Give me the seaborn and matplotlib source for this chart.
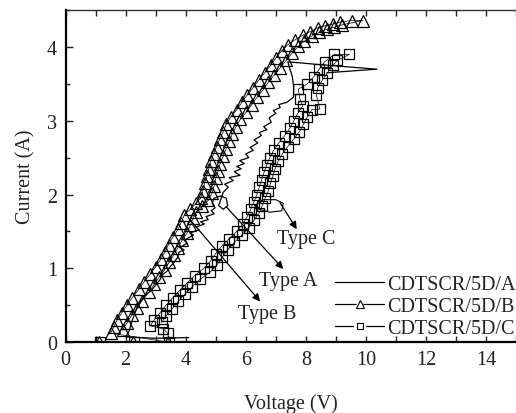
import matplotlib
matplotlib.use("Agg")
import matplotlib.pyplot as plt
from matplotlib.lines import Line2D
from matplotlib.legend_handler import HandlerTuple
from matplotlib.ticker import MultipleLocator
import seaborn as sns
import pandas as pd

# ---------------- data ----------------
A_v = [4.10, 3.00, 2.00, 2.12, 2.20, 2.30, 2.38, 2.50, 2.64, 2.80, 2.92, 3.05, 3.14, 3.22,
       3.38, 3.48, 3.62, 3.72, 3.78, 3.95, 3.80, 4.05, 3.95, 4.26, 4.15, 4.45, 4.35, 4.62,
       4.50, 4.75, 4.68, 4.95, 4.85, 4.98, 4.88, 4.95, 5.15, 5.35, 5.40, 5.25, 5.10, 5.25,
       5.42, 5.30, 5.59, 5.45, 5.81, 5.62, 5.85, 5.70, 5.95, 5.80, 6.10, 6.00, 6.25, 6.15,
       6.40, 6.28, 6.52, 6.45, 6.70, 6.60, 6.85, 6.78, 7.00, 6.92, 7.15, 7.10, 7.37, 7.59,
       7.60, 7.55, 7.40, 8.50, 10.37, 9.00, 8.70]
A_i = [0.06, 0.05, 0.07, 0.15, 0.27, 0.38, 0.46, 0.55, 0.63, 0.68, 0.73, 0.80, 0.84, 0.91,
       0.96, 1.02, 1.08, 1.14, 1.22, 1.25, 1.28, 1.34, 1.38, 1.45, 1.48, 1.52, 1.56, 1.60,
       1.63, 1.66, 1.70, 1.74, 1.78, 1.82, 1.88, 1.95, 1.98, 1.95, 1.85, 1.80, 1.85, 2.03,
       2.10, 2.14, 2.19, 2.23, 2.26, 2.31, 2.35, 2.38, 2.42, 2.46, 2.50, 2.55, 2.60, 2.64,
       2.70, 2.74, 2.80, 2.84, 2.88, 2.92, 2.98, 3.04, 3.10, 3.14, 3.18, 3.22, 3.25, 3.32,
       3.45, 3.60, 3.80, 3.76, 3.70, 3.66, 3.65]

B_v = [1.10, 2.25, 3.40,
       1.50, 1.60, 1.72, 1.88, 2.05, 2.22, 2.45, 2.62, 2.82, 3.00, 3.17, 3.30, 3.43, 3.57,
       3.75, 3.85, 3.95, 4.15, 4.35, 4.50, 4.57, 4.63, 4.70, 4.77, 4.83, 4.93, 5.03, 5.13,
       5.25, 5.35, 5.50, 5.70, 5.87, 6.05, 6.25, 6.43, 6.63, 6.83, 7.00, 7.20, 7.40, 7.65,
       7.90, 8.15, 8.40, 8.65, 8.90, 9.15, 9.55, 9.90,
       9.20, 8.95, 8.70, 8.45, 8.20, 7.95, 7.75, 7.55, 7.35, 7.15, 6.95, 6.75, 6.58, 6.38,
       6.20, 6.02, 5.82, 5.68, 5.55, 5.45, 5.35, 5.25, 5.15, 5.08, 5.00, 4.95, 4.88, 4.75,
       4.55, 4.35, 4.25, 4.15, 4.05, 3.88, 3.75, 3.60, 3.45, 3.30, 3.12, 2.95, 2.78, 2.55,
       2.38, 2.20, 2.05, 1.90]
B_i = [0.00, 0.00, 0.00,
       0.12, 0.20, 0.30, 0.40, 0.50, 0.60, 0.72, 0.82, 0.92, 1.02, 1.12, 1.22, 1.32, 1.42,
       1.53, 1.62, 1.72, 1.80, 1.88, 1.95, 2.05, 2.15, 2.25, 2.35, 2.45, 2.55, 2.65, 2.75,
       2.85, 2.95, 3.05, 3.15, 3.25, 3.35, 3.45, 3.55, 3.65, 3.75, 3.85, 3.95, 4.03, 4.10,
       4.16, 4.21, 4.26, 4.29, 4.31, 4.34, 4.36, 4.36,
       4.30, 4.27, 4.24, 4.20, 4.15, 4.08, 4.01, 3.92, 3.82, 3.72, 3.62, 3.52, 3.42, 3.32,
       3.22, 3.12, 3.02, 2.92, 2.82, 2.72, 2.62, 2.52, 2.42, 2.32, 2.22, 2.12, 2.02, 1.92,
       1.84, 1.76, 1.68, 1.58, 1.48, 1.38, 1.28, 1.18, 1.08, 0.98, 0.88, 0.78, 0.68, 0.56,
       0.46, 0.36, 0.26, 0.16]

C_v = [1.15, 2.28, 3.45, 3.40, 3.25,
       2.82, 2.95, 3.15, 3.35, 3.57, 3.80, 4.05, 4.30, 4.60, 4.83, 5.00, 5.20, 5.45, 5.70,
       5.90, 6.05, 6.17, 6.27, 6.37, 6.45, 6.53, 6.61, 6.70, 6.80, 6.93, 7.10, 7.30, 7.47,
       7.60, 7.73, 7.90, 7.80, 7.75, 8.05, 8.27, 8.45, 8.63, 8.95, 9.45,
       9.05, 8.90, 8.72, 8.55, 8.40, 8.35, 8.47, 8.20, 8.05, 7.92, 7.78, 7.60, 7.40, 7.22,
       7.08, 6.98, 6.90, 6.82, 6.75, 6.65, 6.55, 6.45, 6.28, 6.10, 5.87, 5.62, 5.40, 5.22,
       5.05, 4.82, 4.48, 4.22, 3.98, 3.75, 3.55, 3.35, 3.20]
C_i = [0.00, 0.00, 0.00, 0.12, 0.18,
       0.22, 0.30, 0.40, 0.50, 0.60, 0.70, 0.80, 0.90, 1.00, 1.10, 1.20, 1.30, 1.40, 1.50,
       1.60, 1.70, 1.80, 1.90, 2.00, 2.10, 2.20, 2.30, 2.40, 2.50, 2.60, 2.70, 2.80, 2.90,
       3.00, 3.10, 3.20, 3.30, 3.43, 3.50, 3.60, 3.70, 3.80, 3.90, 3.90,
       3.82, 3.75, 3.65, 3.55, 3.45, 3.35, 3.16, 3.15, 3.05, 2.95, 2.85, 2.75, 2.65, 2.55,
       2.45, 2.35, 2.25, 2.15, 2.05, 1.95, 1.85, 1.75, 1.65, 1.55, 1.45, 1.35, 1.25, 1.15,
       1.05, 0.95, 0.85, 0.75, 0.65, 0.55, 0.45, 0.35, 0.27]

C_loop_v = [6.30, 6.60, 7.00, 7.25, 7.20, 6.80, 6.45, 6.30]
C_loop_i = [1.85, 1.93, 1.93, 1.88, 1.78, 1.76, 1.80, 1.85]

labels = ["CDTSCR/5D/A", "CDTSCR/5D/B", "CDTSCR/5D/C"]

# ---------------- styling ----------------
sns.set_theme(style="ticks")
plt.rcParams["font.family"] = ["Liberation Serif", "DejaVu Serif"]
FS = 14.5
TXT = "#222222"

fig = plt.figure(figsize=(5.16, 4.14), dpi=100)
ax = fig.add_axes([0.127, 0.1715, 0.873, 0.8015])

dfA = pd.DataFrame({"V": A_v, "I": A_i})
dfB = pd.DataFrame({"V": B_v, "I": B_i})
dfC = pd.DataFrame({"V": C_v, "I": C_i})
dfL = pd.DataFrame({"V": C_loop_v, "I": C_loop_i})

sns.lineplot(data=dfA, x="V", y="I", sort=False, estimator=None, ax=ax,
             color="black", lw=0.9)
sns.lineplot(data=dfC, x="V", y="I", sort=False, estimator=None, ax=ax,
             color="black", lw=0.5, marker="s", markersize=7,
             markerfacecolor="none", markeredgecolor="black", markeredgewidth=0.9)
sns.lineplot(data=dfL, x="V", y="I", sort=False, estimator=None, ax=ax,
             color="black", lw=0.8)
sns.lineplot(data=dfB, x="V", y="I", sort=False, estimator=None, ax=ax,
             color="black", lw=0.5, marker="^", markersize=8,
             markerfacecolor="none", markeredgecolor="black", markeredgewidth=0.9)

ax.set_xlim(0, 15)
ax.set_ylim(0, 4.5)
ax.xaxis.set_major_locator(MultipleLocator(2))
ax.xaxis.set_minor_locator(MultipleLocator(1))
ax.yaxis.set_major_locator(MultipleLocator(1))
ax.yaxis.set_minor_locator(MultipleLocator(0.5))
ax.tick_params(axis="x", which="both", direction="in", top=True, bottom=True,
               length=4, width=1.0, labelsize=FS, pad=6, colors=TXT)
ax.tick_params(axis="y", which="major", direction="in", left=True, right=False,
               length=5, width=1.0, labelsize=FS, pad=6, colors=TXT)
ax.tick_params(axis="y", which="minor", direction="in", left=True, right=False,
               length=3, width=1.0, colors=TXT)
for s in ["left", "bottom"]:
    ax.spines[s].set_linewidth(1.6)
    ax.spines[s].set_color("black")
ax.spines["top"].set_linewidth(1.0)
ax.spines["top"].set_color("#333333")
ax.spines["right"].set_visible(False)

ax.set_xlabel("Voltage (V)", fontsize=FS, color=TXT, labelpad=17)
ax.set_ylabel("Current (A)", fontsize=FS, color=TXT, labelpad=8)

# annotations
arrow = dict(arrowstyle="-|>", color="black", lw=0.9, mutation_scale=11,
             shrinkA=0, shrinkB=0)
ax.annotate("", xy=(7.25, 0.99), xytext=(5.36, 1.83), arrowprops=arrow)
ax.annotate("", xy=(6.48, 0.55), xytext=(4.14, 1.66), arrowprops=arrow)
ax.annotate("", xy=(7.70, 1.53), xytext=(7.14, 1.89), arrowprops=arrow)
ax.text(7.41, 0.83, "Type A", fontsize=FS, ha="center", va="center", color=TXT)
ax.text(6.72, 0.39, "Type B", fontsize=FS, ha="center", va="center", color=TXT)
ax.text(8.00, 1.40, "Type C", fontsize=FS, ha="center", va="center", color=TXT)

# legend
hA = Line2D([], [], color="black", lw=0.9)
hB = (Line2D([], [], color="black", lw=0.9),
      Line2D([], [], ls="none", marker="^", ms=9, mfc="white", mec="white", mew=0),
      Line2D([], [], ls="none", marker="^", ms=5.5, mfc="none", mec="black", mew=0.8))
hC = (Line2D([], [], color="black", lw=0.9),
      Line2D([], [], ls="none", marker="s", ms=8, mfc="white", mec="white", mew=0),
      Line2D([], [], ls="none", marker="s", ms=4.5, mfc="none", mec="black", mew=0.8))
leg = ax.legend([hA, hB, hC], labels, loc="lower left",
                bbox_to_anchor=(0.59, 0.0), frameon=False, fontsize=FS,
                handlelength=2.4, handletextpad=0.15, labelspacing=0.15,
                borderpad=0.2, borderaxespad=0.0,
                handler_map={tuple: HandlerTuple(ndivide=1, pad=0)})
for t in leg.get_texts():
    t.set_color(TXT)

fig.savefig("out.png", dpi=100)
